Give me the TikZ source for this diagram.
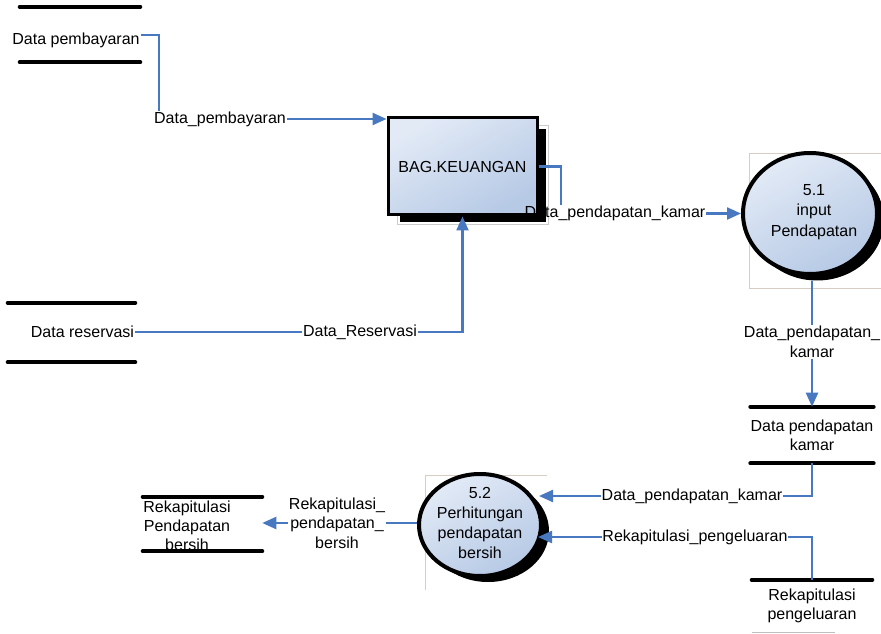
\documentclass[tikz,border=0pt]{standalone}
\usepackage{fontspec}
\setmainfont{Liberation Sans}
\usetikzlibrary{shapes.geometric,arrows.meta,calc}
\definecolor{flowblue}{RGB}{72,120,192}
\definecolor{fillA}{RGB}{226,234,246}
\definecolor{fillB}{RGB}{182,201,229}
\definecolor{frameg}{RGB}{215,205,195}
\begin{document}
\begin{tikzpicture}[x=0.75pt,y=-0.75pt,
 every node/.style={font=\fontsize{12}{14.5}\selectfont, inner sep=0.5pt},
 flow/.style={draw=flowblue, line width=1.7pt},
 arr/.style={flow, -{Triangle[length=10.5pt,width=9pt]}},
 storeline/.style={line width=3pt, line cap=round},
 storebox/.style={draw=none, rectangle, inner sep=0pt, align=center},
 shadowell/.style={ellipse, fill=black, draw=none, inner sep=0pt},
 procell/.style={ellipse, draw=black, line width=3pt, top color=fillA, bottom color=fillB, shading angle=30, inner sep=0pt},
 lbl/.style={align=center},
 frame/.style={draw=frameg, line width=0.5pt}]
\useasboundingbox (0,0) rectangle (881,634);

% faint frames
\draw[frame] (881,153) -- (749,153) -- (749,288) -- (881,288);
\draw[frame] (547,475) -- (425,475) -- (425,590);

% data stores
\node[storebox, minimum width=90pt, minimum height=41.25pt] (st1) at (80,34.5) {};
\draw[storeline] (st1.north west) -- (st1.north east);
\draw[storeline] (st1.south west) -- (st1.south east);
\node (tdpb) at (76,40) {Data pembayaran};

\node[storebox, minimum width=95.25pt, minimum height=44.25pt] (st5) at (71.5,332.5) {};
\draw[storeline] (st5.north west) -- (st5.north east);
\draw[storeline] (st5.south west) -- (st5.south east);
\node (tdr) at (82.5,332) {Data reservasi};

\node[storebox, minimum width=89.25pt, minimum height=40.5pt] (st4) at (202.5,524) {};
\draw[storeline] (st4.north west) -- (st4.north east);
\draw[storeline] (st4.south west) -- (st4.south east);
\node[lbl, font=\fontsize{12}{14.25}\selectfont] (t4) at (187,526) {Rekapitulasi\\Pendapatan\\bersih};

\node[storebox, minimum width=90pt, minimum height=42pt] (st2) at (812,435) {Data pendapatan\\kamar};
\draw[storeline] (st2.north west) -- (st2.north east);
\draw[storeline] (st2.south west) -- (st2.south east);

\node[storebox, minimum width=90pt, minimum height=39pt] (st3) at (812,606) {Rekapitulasi\\pengeluaran};
\draw[storeline] (st3.north west) -- (st3.north east);
\draw[draw=gray!50, line width=0.6pt] (st3.south west) -- ([xshift=-28pt]st3.south east);

% external entity BAG.KEUANGAN
\draw[draw=gray!40, line width=0.6pt] (397,125) rectangle (548,224);
\fill[black] (400,129) rectangle (546,222);
\node[draw=black, line width=2.25pt, top color=fillA, bottom color=fillB, shading angle=30,
      minimum width=111.75pt, minimum height=72.75pt, inner sep=0pt] (bag) at (462.5,166.5) {BAG.KEUANGAN};

% processes
\node[shadowell, minimum width=100.5pt, minimum height=90.75pt] (c51s) at (817,220) {};
\node[procell, minimum width=100.5pt, minimum height=90.75pt] (c51) at (810,213.5) {};
\node[lbl, font=\fontsize{12}{15.5}\selectfont] (t51) at (814,212) {5.1\\input\\Pendapatan};

\node[shadowell, minimum width=91.5pt, minimum height=76.5pt] (c52s) at (488,531) {};
\node[procell, minimum width=91.5pt, minimum height=76.5pt] (c52) at (480,525) {};
\node[lbl, font=\fontsize{12}{15}\selectfont] (t52) at (480,523) {5.2\\Perhitungan\\pendapatan\\bersih};

% flow labels
\node (lpb) at (220,119) {Data\_pembayaran};
\node (lpk) at (615,213.5) {Data\_pendapatan\_kamar};
\node[lbl, font=\fontsize{12}{15}\selectfont] (lpk2) at (812,342) {Data\_pendapatan\_\\kamar};
\node (lpk3) at (692,496) {Data\_pendapatan\_kamar};
\node (lrp) at (695,537) {Rekapitulasi\_pengeluaran};
\node[lbl] (lrpb) at (337,523) {Rekapitulasi\_\\pendapatan\_\\bersih};
\node (ldr) at (360,332) {Data\_Reservasi};

\coordinate (in1) at (539,496);
\coordinate (in2) at (538,537);

% connectors
\draw[flow] ([yshift=3.75pt]tdpb.east) -| ([xshift=4.5pt]lpb.north west);
\draw[arr] (lpb.east) -- (lpb.east -| bag.west);
\draw[flow] (bag.east) -| ([xshift=27.75pt]lpk.north west);
\draw[arr] (lpk.east) -- (c51.west);
\draw[flow] (c51s.south -| lpk2.north) -- (lpk2.north);
\draw[arr] (lpk2.south) -- (st2.north);
\draw[flow] (st2.south) |- (lpk3.east);
\draw[arr] (lpk3.west) -- (in1);
\draw[flow] (st3.north) |- (lrp.east);
\draw[arr] (lrp.west) -- (in2);
\draw[flow] (c52.west |- lrpb.east) -- (lrpb.east);
\draw[arr] (lrpb.west) -- (lrpb.west -| st4.east);
\draw[flow] (tdr.east) -- (ldr.west);
\draw[arr] (ldr.east) -| (bag.south);
\end{tikzpicture}
\end{document}
